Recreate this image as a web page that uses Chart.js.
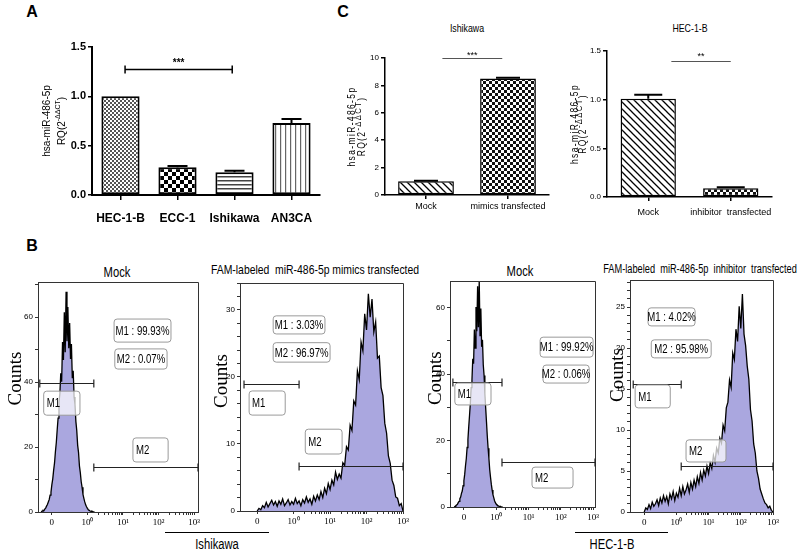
<!DOCTYPE html>
<html>
<head>
<meta charset="utf-8">
<title>miR-486-5p expression</title>
<script src="https://cdn.jsdelivr.net/npm/chart.js"></script>
<style>
  body { margin: 0; background: #fff; }
  #fig { position: relative; width: 800px; height: 552px; overflow: hidden; font-family: 'Liberation Sans', Arial, sans-serif; }
  #fig canvas { position: absolute; }
  .lbl { position: absolute; width: max-content; white-space: pre; color: #000; line-height: 1; transform: translate(-50%, -50%); }
  .narrow { font-family: 'Liberation Sans', Arial, sans-serif; transform: translate(-50%, -50%) scaleX(0.8); }
  .narrower { font-family: 'Liberation Sans', Arial, sans-serif; transform: translate(-50%, -50%) scaleX(0.77); }
  .letter { font-weight: bold; font-size: 16px; }
  .rule { position: absolute; height: 0; border-top: 1.5px solid #000; }
</style>
</head>
<body>
<div id="fig">
  <div class="lbl letter" style="left:32px;top:12px">A</div>
  <div class="lbl letter" style="left:343px;top:12px">C</div>
  <div class="lbl letter" style="left:32px;top:246px">B</div>

  <div class="lbl narrow" style="left:467px;top:28px;font-size:11px">Ishikawa</div>
  <div class="lbl narrow" style="left:690px;top:28px;font-size:11px">HEC-1-B</div>

  <div class="lbl narrow" style="left:117px;top:272px;font-size:14px">Mock</div>
  <div class="lbl narrow" style="left:315px;top:269px;font-size:13px">FAM-labeled  miR-486-5p mimics transfected</div>
  <div class="lbl narrow" style="left:520px;top:271px;font-size:14px">Mock</div>
  <div class="lbl narrower" style="left:700px;top:269px;font-size:12px">FAM-labeled  miR-486-5p  inhibitor  transfected</div>

  <div class="rule" style="left:165px;top:532px;width:104px"></div>
  <div class="lbl narrow" style="left:217px;top:544px;font-size:14px">Ishikawa</div>
  <div class="rule" style="left:575px;top:532px;width:93px"></div>
  <div class="lbl narrow" style="left:612px;top:544px;font-size:14px">HEC-1-B</div>

  <canvas id="cellBar" width="330" height="235" style="left:0;top:0"></canvas>
  <canvas id="ishBar" width="225" height="225" style="left:330px;top:0"></canvas>
  <canvas id="hecBar" width="245" height="225" style="left:555px;top:0"></canvas>

  <canvas id="histMockIsh" width="210" height="263" style="left:0;top:272px"></canvas>
  <canvas id="histMimicsIsh" width="210" height="262" style="left:205px;top:273px"></canvas>
  <canvas id="histMockHec" width="197" height="264" style="left:410px;top:271px"></canvas>
  <canvas id="histInhibHec" width="200" height="265" style="left:600px;top:270px"></canvas>
</div>

<script>
// ---- panel A: qPCR across cell lines ----
const cellLines = ['HEC-1-B', 'ECC-1', 'Ishikawa', 'AN3CA'];
const cellRQ = [1.0, 0.28, 0.23, 0.73];
const cellRQTop = [1.0, 0.295, 0.245, 0.77];

// ---- panel C: after transfection ----
const ishGroups = ['Mock', 'mimics transfected'];
const ishRQ = [1.0, 8.5];
const ishRQTop = [1.04, 8.56];

const hecGroups = ['Mock', 'inhibitor  transfected'];
const hecRQ = [1.01, 0.09];
const hecRQTop = [1.05, 0.1];

// ---- panel B: flow cytometry (x in decade units: 0 -> "0", 1 -> 10^0 ... 4 -> 10^3) ----
const fluoTickLabels = ['0', '10\u2070', '10\u00b9', '10\u00b2', '10\u00b3'];

const mockBins = [-0.3, -0.275, -0.25, -0.225, -0.2, -0.175, -0.15, -0.125, -0.1, -0.075, -0.05, -0.025,
  0, 0.025, 0.05, 0.075, 0.1, 0.125, 0.15, 0.175, 0.2, 0.225, 0.25, 0.275,
  0.3, 0.325, 0.35, 0.375, 0.4, 0.425, 0.45, 0.475, 0.5, 0.525, 0.55, 0.575,
  0.6, 0.625, 0.65, 0.675, 0.7, 0.725, 0.75, 0.775, 0.8, 0.825, 0.85, 0.875,
  0.9, 0.925, 0.95, 0.975, 1, 1.025, 1.05, 1.075, 1.1, 1.125, 1.15, 1.175, 1.2];

const mockIshCounts = [0, 0.3, 0.5, 0.4, 0.9, 1.2, 1.8, 2.3, 3.1, 3.8, 5.2, 6.1,
  8.4, 10.2, 12.9, 15.1, 18.6, 21.4, 25.3, 28.9, 33.8, 36.4, 42.7, 40.1,
  52.3, 46.8, 61.5, 49.2, 67.8, 52.6, 63.1, 50.4, 58.2, 47.1, 51.7, 41.2,
  43.5, 35.4, 33.2, 27.9, 25.1, 20.6, 18.3, 14.2, 12.1, 9.3, 7.6, 5.4,
  4.2, 3.1, 2.2, 1.6, 1.1, 0.7, 0.5, 0.3, 0.2, 0.3, 0.1, 0, 0];

const mockHecCounts = [0, 0.2, 0.4, 0.6, 0.8, 1.3, 1.7, 2.5, 3.0, 4.1, 4.8, 6.4,
  7.9, 9.8, 12.4, 14.6, 17.9, 20.3, 24.1, 27.6, 31.2, 35.9, 38.3, 44.6,
  43.1, 53.4, 47.8, 60.2, 52.9, 66.4, 54.1, 68.3, 51.6, 59.7, 48.2, 50.3,
  42.8, 39.6, 34.1, 29.8, 25.6, 21.3, 17.7, 14.6, 11.2, 8.9, 6.8, 5.1,
  3.7, 2.8, 1.9, 1.3, 0.9, 0.6, 0.4, 0.3, 0.1, 0.2, 0, 0, 0];

const transBins = [0, 0.05, 0.1, 0.15, 0.2, 0.25, 0.3, 0.35, 0.4, 0.45,
  0.5, 0.55, 0.6, 0.65, 0.7, 0.75, 0.8, 0.85, 0.9, 0.95,
  1, 1.05, 1.1, 1.15, 1.2, 1.25, 1.3, 1.35, 1.4, 1.45,
  1.5, 1.55, 1.6, 1.65, 1.7, 1.75, 1.8, 1.85, 1.9, 1.95,
  2, 2.05, 2.1, 2.15, 2.2, 2.25, 2.3, 2.35, 2.4, 2.45,
  2.5, 2.55, 2.6, 2.65, 2.7, 2.75, 2.8, 2.85, 2.9, 2.95,
  3, 3.05, 3.1, 3.15, 3.2, 3.25, 3.3, 3.35, 3.4, 3.45,
  3.5, 3.55, 3.6, 3.65, 3.7, 3.75, 3.8, 3.85, 3.9, 3.95, 4];

const mimicsIshCounts = [0, 0.4, 0.2, 0.8, 0.5, 1.3, 0.6, 1.1, 1.6, 0.9,
  1.4, 0.7, 1.5, 1.0, 1.8, 0.8, 1.2, 1.7, 0.9, 1.4,
  1.0, 1.9, 1.1, 1.5, 0.8, 1.7, 1.2, 2.1, 1.3, 1.8,
  1.0, 2.2, 1.5, 2.4, 1.7, 2.9, 2.0, 3.4, 2.6, 4.1,
  3.2, 4.6, 3.9, 5.8, 4.7, 5.5, 4.9, 7.2, 6.8, 9.6,
  9.1, 12.8, 12.0, 16.4, 15.8, 20.9, 19.6, 25.2, 23.9, 29.4,
  27.0, 32.4, 28.9, 31.6, 26.7, 28.2, 22.8, 23.1, 18.4, 17.2,
  13.1, 11.6, 8.2, 7.1, 4.6, 3.8, 2.1, 1.9, 0.8, 1.1, 0];

const inhibHecCounts = [0, 0.5, 0.3, 0.9, 0.4, 1.2, 0.7, 1.0, 1.5, 0.8,
  1.7, 1.1, 2.0, 1.3, 1.9, 1.0, 2.2, 1.6, 2.5, 1.4,
  2.3, 1.8, 2.9, 2.0, 3.1, 2.2, 2.7, 3.4, 2.4, 3.6,
  2.8, 3.9, 3.1, 4.3, 3.5, 4.8, 3.9, 5.1, 4.4, 5.6,
  4.7, 6.0, 5.3, 6.9, 6.1, 7.8, 7.2, 9.0, 8.4, 10.6,
  9.9, 12.7, 13.4, 16.1, 15.2, 19.4, 18.6, 22.3, 20.8, 25.1,
  22.4, 26.6, 21.7, 20.3, 17.8, 16.2, 12.5, 11.1, 8.3, 7.2,
  5.0, 4.1, 2.8, 2.2, 1.6, 1.1, 0.9, 0.5, 0.7, 0.2, 0];

// gates: [from, to, height]
const mockIshGates = [[-0.34, 1.18, 39.7], [1.18, 4.11, 13.8]];
const mimicsIshGates = [[-0.36, 1.15, 19], [1.15, 4.0, 6.7]];
const mockHecGates = [[-0.34, 1.18, 37.6], [1.18, 4.06, 13.5]];
const inhibHecGates = [[-0.34, 1.15, 15.6], [1.15, 4.0, 5.6]];

// percent of events in M1, M2
const mockIshPct = ['99.93', '0.07'];
const mimicsIshPct = ['3.03', '96.97'];
const mockHecPct = ['99.92', '0.06'];
const inhibHecPct = ['4.02', '95.98'];

const SANS = "'Liberation Sans', Arial, sans-serif";
const SERIF = "'Liberation Serif', 'Times New Roman', serif";

function pattern(size, paint) {
  const c = document.createElement('canvas');
  c.width = c.height = size;
  const g = c.getContext('2d');
  g.fillStyle = '#fff';
  g.fillRect(0, 0, size, size);
  paint(g, size);
  return g.createPattern(c, 'repeat');
}

const fineCheck = pattern(4, g => { g.fillStyle = '#555'; g.fillRect(0, 0, 2, 2); g.fillRect(2, 2, 2, 2); });
const bigCheck = pattern(8, g => { g.fillStyle = '#000'; g.fillRect(0, 0, 4, 4); g.fillRect(4, 4, 4, 4); });
const hLines = pattern(4, g => { g.fillStyle = '#444'; g.fillRect(0, 0, 4, 1.5); });
const vLines = pattern(5, g => { g.fillStyle = '#666'; g.fillRect(0, 0, 1.2, 5); });
const smallCheck = pattern(6, g => { g.fillStyle = '#111'; g.fillRect(0, 0, 3, 3); g.fillRect(3, 3, 3, 3); });
const diag = pattern(7, g => {
  g.strokeStyle = '#000'; g.lineWidth = 1.3;
  g.beginPath();
  g.moveTo(-1, -1); g.lineTo(8, 8);
  g.moveTo(-1, 6); g.lineTo(1, 8);
  g.moveTo(6, -1); g.lineTo(8, 1);
  g.stroke();
});

// condensed text helper (no narrow face installed)
function narrowText(ctx, text, x, y, squeeze) {
  ctx.save();
  ctx.translate(x, y);
  ctx.scale(squeeze, 1);
  ctx.fillText(text, 0, 0);
  ctx.restore();
}

// error bars drawn from the bar top to the given value
function errorBars(tops, cap) {
  return {
    id: 'errorBars',
    afterDatasetsDraw(chart) {
      const { ctx, scales: { y } } = chart;
      const meta = chart.getDatasetMeta(0);
      const vals = chart.data.datasets[0].data;
      ctx.save();
      ctx.strokeStyle = '#000';
      ctx.lineWidth = 2;
      tops.forEach((t, i) => {
        if (t <= vals[i]) return;
        const bx = meta.data[i].x, y0 = y.getPixelForValue(vals[i]), y1 = y.getPixelForValue(t);
        ctx.beginPath();
        ctx.moveTo(bx, y0); ctx.lineTo(bx, y1);
        ctx.moveTo(bx - cap, y1); ctx.lineTo(bx + cap, y1);
        ctx.stroke();
      });
      ctx.restore();
    }
  };
}

// significance line / bracket between two category positions
function sigMark(s) {
  return {
    id: 'sigMark',
    afterDatasetsDraw(chart) {
      const { ctx, scales: { x, y } } = chart;
      const x0 = x.getPixelForValue(s.from), x1 = x.getPixelForValue(s.to);
      const py = Math.round(y.getPixelForValue(s.y)) + 0.5;
      ctx.save();
      ctx.strokeStyle = s.color;
      ctx.lineWidth = s.width;
      ctx.beginPath();
      ctx.moveTo(x0, py); ctx.lineTo(x1, py);
      if (s.ends) {
        ctx.moveTo(x0, py - s.ends); ctx.lineTo(x0, py + s.ends);
        ctx.moveTo(x1, py - s.ends); ctx.lineTo(x1, py + s.ends);
      }
      ctx.stroke();
      ctx.fillStyle = '#000';
      ctx.font = s.font;
      ctx.textAlign = 'center';
      ctx.textBaseline = 'alphabetic';
      ctx.fillText(s.text, (x0 + x1) / 2, py + s.textDy);
      ctx.restore();
    }
  };
}

// rotated two-line y title with superscript
function rqTitle(t) {
  return {
    id: 'rqTitle',
    afterDraw(chart) {
      const { ctx, chartArea } = chart;
      const cy = (chartArea.top + chartArea.bottom) / 2;
      ctx.save();
      ctx.fillStyle = '#000';
      ctx.letterSpacing = t.spacing + 'px';
      ctx.textBaseline = 'middle';
      ctx.translate(t.x1, cy);
      ctx.rotate(-Math.PI / 2);
      ctx.scale(t.squeeze, 1);
      ctx.font = t.font;
      ctx.textAlign = 'center';
      ctx.fillText('hsa-miR-486-5p', 0, 0);
      ctx.restore();

      ctx.save();
      ctx.fillStyle = '#000';
      ctx.letterSpacing = t.spacing + 'px';
      ctx.textBaseline = 'middle';
      ctx.textAlign = 'left';
      ctx.translate(t.x2, cy);
      ctx.rotate(-Math.PI / 2);
      ctx.scale(t.squeeze, 1);
      const parts = [['RQ(2', t.font, 0], ['-\u0394\u0394CT', t.supFont, -t.supShift], [')', t.font, 0]];
      let w = 0;
      parts.forEach(p => { ctx.font = p[1]; w += ctx.measureText(p[0]).width; });
      let px = -w / 2;
      parts.forEach(p => { ctx.font = p[1]; ctx.fillText(p[0], px, p[2]); px += ctx.measureText(p[0]).width; });
      ctx.restore();
    }
  };
}

function barChart(id, labels, values, tops, fills, o) {
  const axisGrid = { offset: false, drawOnChartArea: false, color: '#000', lineWidth: 1.5 };
  return new Chart(document.getElementById(id), {
    type: 'bar',
    data: {
      labels: labels,
      datasets: [{
        data: values,
        backgroundColor: fills,
        borderColor: '#000',
        borderWidth: o.barBorder,
        borderSkipped: false,
        barPercentage: o.barPct,
        categoryPercentage: 1
      }]
    },
    options: {
      responsive: false,
      animation: false,
      layout: { padding: o.padding },
      plugins: { legend: { display: false }, tooltip: { enabled: false } },
      scales: {
        x: {
          grid: Object.assign({ tickLength: o.xTick }, axisGrid),
          border: { color: '#000', width: o.axisW },
          ticks: { color: '#000', font: o.xFont, padding: o.xPad, maxRotation: 0, autoSkip: false },
          afterFit: s => { s.height = o.xH; }
        },
        y: {
          min: 0,
          max: o.yMax,
          grid: Object.assign({ tickLength: 4 }, axisGrid),
          border: { color: '#000', width: o.axisW },
          ticks: { stepSize: o.step, color: '#000', font: o.yFont, padding: 2, callback: o.fmt },
          afterFit: s => { s.width = o.yW; }
        }
      }
    },
    plugins: [errorBars(tops, o.cap), sigMark(o.sig), rqTitle(o.title)]
  });
}

barChart('cellBar', cellLines, cellRQ, cellRQTop, [fineCheck, bigCheck, hLines, vLines], {
  padding: { top: 47, right: 10, left: 0, bottom: 0 },
  yW: 92, xH: 40, yMax: 1.5, step: 0.5, fmt: v => v.toFixed(1),
  barPct: 0.67, barBorder: 2, axisW: 2, xTick: 5, xPad: 11, cap: 10,
  xFont: { family: SANS, size: 12, weight: 'bold' },
  yFont: { family: SANS, size: 11, weight: 'bold' },
  sig: { from: 0.08, to: 1.96, y: 1.277, ends: 4, color: '#000', width: 1.5, text: '***', font: 'bold 10px ' + SANS, textDy: -4 },
  title: { x1: 47, x2: 62, font: '10px ' + SANS, supFont: '7px ' + SANS, supShift: 4, spacing: 0, squeeze: 1 }
});

barChart('ishBar', ishGroups, ishRQ, ishRQTop, [diag, smallCheck], {
  padding: { top: 58, right: 6, left: 0, bottom: 0 },
  yW: 55, xH: 30, yMax: 10, step: 2, fmt: v => v,
  barPct: 0.68, barBorder: 1.5, axisW: 1.5, xTick: 4, xPad: 2, cap: 12,
  xFont: { family: SANS, size: 9 },
  yFont: { family: SANS, size: 8 },
  sig: { from: 0.2, to: 0.93, y: 10, ends: 0, color: '#555', width: 1, text: '***', font: '9px ' + SANS, textDy: -1 },
  title: { x1: 22, x2: 32, font: '10px ' + SANS, supFont: '9px ' + SANS, supShift: 3, spacing: 1.6, squeeze: 0.85 }
});

barChart('hecBar', hecGroups, hecRQ, hecRQTop, [diag, smallCheck], {
  padding: { top: 51, right: 28, left: 0, bottom: 0 },
  yW: 52, xH: 28, yMax: 1.5, step: 0.5, fmt: v => v.toFixed(1),
  barPct: 0.67, barBorder: 1.5, axisW: 1.5, xTick: 4, xPad: 6, cap: 14,
  xFont: { family: SANS, size: 9 },
  yFont: { family: SANS, size: 8 },
  sig: { from: 0.28, to: 1.0, y: 1.4, ends: 0, color: '#555', width: 1, text: '**', font: '9px ' + SANS, textDy: -3 },
  title: { x1: 20, x2: 28, font: '10px ' + SANS, supFont: '9px ' + SANS, supShift: 3, spacing: 1.6, squeeze: 0.85 }
});

// ---- histograms ----
function fluoTicks(scale) {
  const t = [];
  for (let d = 0; d <= 4; d++) t.push({ value: d });
  for (let d = 1; d < 4; d++) {
    for (let k = 2; k < 10; k++) t.push({ value: d + Math.log10(k) });
  }
  t.sort((a, b) => a.value - b.value);
  scale.ticks = t;
}

function fluoLabel(v) {
  const i = Math.round(v);
  return Math.abs(v - i) < 1e-6 ? fluoTickLabels[i] : '';
}

function flowDecor(o) {
  return {
    id: 'flowDecor',
    afterDatasetsDraw(chart) {
      const { ctx, chartArea: a, scales: { x, y } } = chart;
      ctx.save();
      ctx.strokeStyle = '#333';
      ctx.lineWidth = 1;
      ctx.beginPath();
      ctx.moveTo(a.left, a.top + 0.5);
      ctx.lineTo(a.right + 0.5, a.top + 0.5);
      ctx.lineTo(a.right + 0.5, a.bottom);
      ctx.stroke();

      ctx.strokeStyle = '#222';
      ctx.lineWidth = 1.2;
      o.gates.forEach(g => {
        const x0 = x.getPixelForValue(g[0]), x1 = x.getPixelForValue(g[1]);
        const py = Math.round(y.getPixelForValue(g[2])) + 0.5;
        ctx.beginPath();
        ctx.moveTo(x0, py); ctx.lineTo(x1, py);
        ctx.moveTo(x0, py - 4); ctx.lineTo(x0, py + 4);
        ctx.moveTo(x1, py - 4); ctx.lineTo(x1, py + 4);
        ctx.stroke();
      });

      ctx.font = '12px ' + SANS;
      ctx.textBaseline = 'middle';
      o.boxes.forEach(b => {
        const bx0 = x.getPixelForValue(b.x0), bx1 = x.getPixelForValue(b.x1);
        const by0 = y.getPixelForValue(b.y0), by1 = y.getPixelForValue(b.y1);
        ctx.beginPath();
        ctx.roundRect(bx0, by0, bx1 - bx0, by1 - by0, 3);
        ctx.fillStyle = 'rgba(255,255,255,0.72)';
        ctx.fill();
        ctx.strokeStyle = '#9a9a9a';
        ctx.lineWidth = 1;
        ctx.stroke();
        ctx.fillStyle = '#000';
        if (b.center) {
          ctx.textAlign = 'center';
          narrowText(ctx, b.text, (bx0 + bx1) / 2, (by0 + by1) / 2 + 1, 0.8);
        } else {
          ctx.textAlign = 'left';
          narrowText(ctx, b.text, bx0 + 3, (by0 + by1) / 2 + 1, 0.8);
        }
      });

      ctx.translate(o.countsX, a.top + o.countsFrac * (a.bottom - a.top));
      ctx.rotate(-Math.PI / 2);
      ctx.font = '19px ' + SERIF;
      ctx.textAlign = 'center';
      ctx.fillStyle = '#000';
      ctx.fillText('Counts', 0, 0);
      ctx.restore();
    }
  };
}

function statBoxes(pct, pos) {
  return [
    { text: 'M1 : ' + pct[0] + '%', center: true, x0: pos[0][0], x1: pos[0][1], y0: pos[0][2], y1: pos[0][3] },
    { text: 'M2 : ' + pct[1] + '%', center: true, x0: pos[1][0], x1: pos[1][1], y0: pos[1][2], y1: pos[1][3] },
    { text: 'M1', x0: pos[2][0], x1: pos[2][1], y0: pos[2][2], y1: pos[2][3] },
    { text: 'M2', x0: pos[3][0], x1: pos[3][1], y0: pos[3][2], y1: pos[3][3] }
  ];
}

function histChart(id, bins, counts, o) {
  const tickFont = { family: SERIF, size: 9 };
  return new Chart(document.getElementById(id), {
    type: 'line',
    data: {
      datasets: [{
        data: bins.map((b, i) => ({ x: b, y: counts[i] })),
        borderColor: '#000',
        borderWidth: 1.3,
        backgroundColor: '#aaa7df',
        fill: 'origin',
        pointRadius: 0,
        tension: 0
      }]
    },
    options: {
      responsive: false,
      animation: false,
      layout: { padding: { top: o.padTop, right: o.padRight, left: 0, bottom: 0 } },
      plugins: { legend: { display: false }, tooltip: { enabled: false } },
      scales: {
        x: {
          type: 'linear',
          min: o.xMin,
          max: o.xMax,
          afterBuildTicks: fluoTicks,
          ticks: { autoSkip: false, maxRotation: 0, padding: 2, color: '#000', font: tickFont, callback: fluoLabel },
          grid: { drawOnChartArea: false, tickLength: 3, color: '#333' },
          border: { color: '#333', width: 1 },
          afterFit: s => { s.height = o.xH; }
        },
        y: {
          min: 0,
          max: o.yMax,
          ticks: {
            stepSize: o.minor, autoSkip: false, includeBounds: false, padding: 2, color: '#000', font: { family: SANS, size: 8 },
            callback: v => (v % o.major === 0 ? v : '')
          },
          grid: { drawOnChartArea: false, tickLength: 3, color: '#333' },
          border: { color: '#333', width: 1 },
          afterFit: s => { s.width = o.yW; }
        }
      }
    },
    plugins: [flowDecor(o)]
  });
}

histChart('histMockIsh', mockBins, mockIshCounts, {
  padTop: 10, padRight: 12, yW: 38, xH: 23, xMin: -0.39, xMax: 4.11, yMax: 70.8, minor: 10, major: 20,
  countsX: 16, countsFrac: 0.42, gates: mockIshGates,
  boxes: statBoxes(mockIshPct, [[1.75, 3.35, 59.4, 52.3], [1.77, 3.24, 50.2, 44], [-0.23, 0.79, 37.2, 29.8], [2.28, 3.27, 22.8, 15.4]])
});

histChart('histMimicsIsh', transBins, mimicsIshCounts, {
  padTop: 10, padRight: 12, yW: 35, xH: 24, xMin: -0.47, xMax: 4.0, yMax: 34, minor: 2, major: 10,
  countsX: 17, countsFrac: 0.43, gates: mimicsIshGates,
  boxes: statBoxes(mimicsIshPct, [[0.44, 1.86, 29.1, 26.4], [0.44, 2.0, 25.1, 22.2], [-0.22, 0.77, 17.9, 14.3], [1.32, 2.33, 12.2, 8.5]])
});

histChart('histMockHec', mockBins, mockHecCounts, {
  padTop: 10, padRight: 12, yW: 40, xH: 28, xMin: -0.43, xMax: 4.06, yMax: 68, minor: 10, major: 20,
  countsX: 26, countsFrac: 0.43, gates: mockHecGates,
  boxes: statBoxes(mockHecPct, [[2.36, 4.0, 51.1, 45.1], [2.45, 3.88, 42.7, 37.3], [-0.28, 0.84, 37.3, 30.7], [2.11, 3.38, 12, 5.7]])
});

histChart('histInhibHec', transBins, inhibHecCounts, {
  padTop: 10, padRight: 27, yW: 30, xH: 23, xMin: -0.44, xMax: 4.0, yMax: 28.3, minor: 1, major: 5,
  countsX: 18, countsFrac: 0.41, gates: inhibHecGates,
  boxes: statBoxes(inhibHecPct, [[0.12, 1.58, 24.9, 22.7], [0.22, 2.08, 21, 18.8], [-0.28, 0.81, 15.5, 12.7], [1.3, 2.54, 8.8, 6.1]])
});
</script>
</body>
</html>
